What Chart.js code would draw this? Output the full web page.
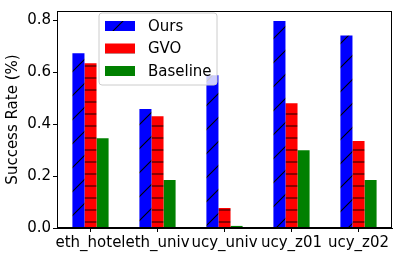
<!DOCTYPE html>
<html>
<head>
<meta charset="utf-8">
<script src="https://cdn.jsdelivr.net/npm/chart.js@4.4.0/dist/chart.umd.min.js"></script>
<style>
  html, body { margin: 0; padding: 0; background: #fff; }
  #wrap { width: 402px; height: 258px; }
</style>
</head>
<body>
<div id="wrap"><canvas id="chart" width="402" height="258"></canvas></div>
<script>
var categories = ["eth_hotel", "eth_univ", "ucy_univ", "ucy_z01", "ucy_z02"];
var seriesNames = ["Ours", "GVO", "Baseline"];
var oursValues = [0.673, 0.458, 0.588, 0.797, 0.742];
var gvoValues = [0.635, 0.431, 0.077, 0.481, 0.335];
var baselineValues = [0.346, 0.185, 0.008, 0.300, 0.185];
var yTicks = [0.0, 0.2, 0.4, 0.6, 0.8];

var FONT = "'DejaVu Sans', sans-serif";
var FS = 15;

// hatch fills like matplotlib's "/" and "-"
var makePattern = function(fill, draw) {
  var c = document.createElement("canvas");
  c.width = 24;
  c.height = 24;
  var g = c.getContext("2d");
  g.fillStyle = fill;
  g.fillRect(0, 0, 24, 24);
  draw(g);
  return document.getElementById("chart").getContext("2d").createPattern(c, "repeat");
};

var oursFill = makePattern("#0000ff", function(g) {
  g.strokeStyle = "#000000";
  g.lineWidth = 1.1;
  g.beginPath();
  g.moveTo(0, 24);
  g.lineTo(24, 0);
  g.moveTo(-2, 2);
  g.lineTo(2, -2);
  g.moveTo(22, 26);
  g.lineTo(26, 22);
  g.stroke();
});

var gvoFill = makePattern("#ff0000", function(g) {
  g.fillStyle = "#8b0000";
  g.fillRect(0, 5, 24, 2);
  g.fillRect(0, 17, 24, 2);
});

var frameAndLegend = {
  id: "frameAndLegend",
  afterDraw: function(chart) {
    var ctx = chart.ctx;
    var a = chart.chartArea;
    ctx.save();
    ctx.strokeStyle = "#000";
    ctx.lineWidth = 1;
    ctx.strokeRect(Math.round(a.left) + 0.5, Math.round(a.top) + 0.5,
      Math.round(a.right - a.left) - 1, Math.round(a.bottom - a.top) - 1);

    // legend box
    var bx = 99, by = 13, bw = 118, bh = 72, r = 3;
    ctx.beginPath();
    ctx.moveTo(bx + r, by);
    ctx.arcTo(bx + bw, by, bx + bw, by + bh, r);
    ctx.arcTo(bx + bw, by + bh, bx, by + bh, r);
    ctx.arcTo(bx, by + bh, bx, by, r);
    ctx.arcTo(bx, by, bx + bw, by, r);
    ctx.closePath();
    ctx.fillStyle = "rgba(255,255,255,0.8)";
    ctx.fill();
    ctx.strokeStyle = "#cccccc";
    ctx.stroke();

    ctx.font = FS + "px " + FONT;
    ctx.textBaseline = "middle";
    chart.data.datasets.forEach(function(ds, i) {
      var cy = 26 + i * 22.5;
      ctx.fillStyle = ds.backgroundColor;
      ctx.fillRect(105, cy - 5, 30, 10);
      ctx.fillStyle = "#000";
      ctx.fillText(ds.label, 148, cy + 1);
    });
    ctx.restore();
  }
};

new Chart(document.getElementById("chart"), {
  type: "bar",
  data: {
    labels: categories,
    datasets: [
      { label: seriesNames[0], data: oursValues, backgroundColor: oursFill },
      { label: seriesNames[1], data: gvoValues, backgroundColor: gvoFill },
      { label: seriesNames[2], data: baselineValues, backgroundColor: "#008000" }
    ]
  },
  options: {
    responsive: false,
    animation: false,
    devicePixelRatio: 1,
    layout: { padding: { left: 0, top: 10, right: 10, bottom: 0 } },
    datasets: {
      bar: { categoryPercentage: 0.54, barPercentage: 1.0, borderWidth: 0 }
    },
    plugins: {
      legend: { display: false },
      tooltip: { enabled: false }
    },
    scales: {
      x: {
        offset: true,
        grid: { drawOnChartArea: false, offset: false, color: "#000", tickLength: 4 },
        border: { color: "#000" },
        ticks: { color: "#000", font: { family: FONT, size: FS }, padding: 2, maxRotation: 0, autoSkip: false },
        afterFit: function(s) { s.height = 30; }
      },
      y: {
        min: 0,
        max: 0.836,
        grid: { drawOnChartArea: false, color: "#000", tickLength: 4 },
        border: { color: "#000" },
        ticks: {
          color: "#000",
          font: { family: FONT, size: FS },
          padding: 2,
          stepSize: 0.2,
          includeBounds: false,
          callback: function(v) { return yTicks.indexOf(Math.round(v * 10) / 10) >= 0 ? v.toFixed(1) : ""; }
        },
        title: {
          display: true,
          text: "Success Rate (%)",
          color: "#000",
          font: { family: FONT, size: FS },
          padding: { top: 4, bottom: 0 }
        },
        afterFit: function(s) { s.width = 57; }
      }
    }
  },
  plugins: [frameAndLegend]
});
</script>
</body>
</html>
